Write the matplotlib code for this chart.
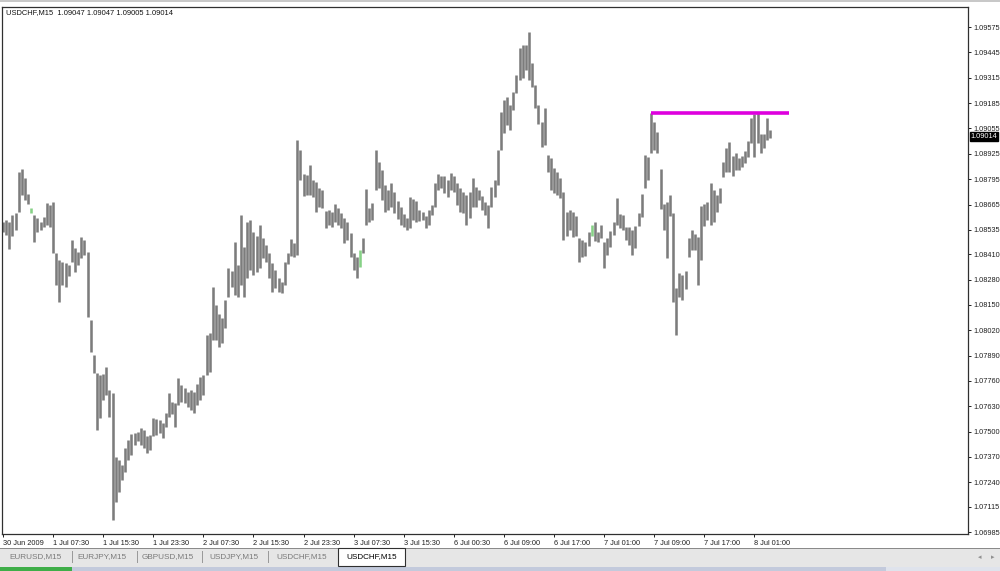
import matplotlib
matplotlib.use("Agg")
import matplotlib.pyplot as plt
import matplotlib.transforms as mtransforms
from matplotlib.patches import Rectangle

# ---------------- data ----------------
symbol = "USDCHF,M15"
last_ohlc = [1.09047, 1.09047, 1.09005, 1.09014]

highs = [
    1.08576, 1.08586, 1.08576, 1.08611, 1.08622, 1.08832, 1.08847, 1.08801, 1.08719, 1.08647,
    1.08611, 1.08596, 1.08576, 1.08601, 1.08673, 1.08662, 1.08678, 1.08417, 1.08381, 1.08371,
    1.08366, 1.08355, 1.08483, 1.08442, 1.08422, 1.08498, 1.08483, 1.08422, 1.08073, 1.07893,
    1.07801, 1.07791, 1.07796, 1.07832, 1.07714, 1.07699, 1.07371, 1.07355, 1.07330, 1.07417,
    1.07458, 1.07488, 1.07494, 1.07499, 1.07519, 1.07509, 1.07478, 1.07483, 1.07571, 1.07565,
    1.07560, 1.07545, 1.07596, 1.07699, 1.07653, 1.07648, 1.07776, 1.07740, 1.07724, 1.07704,
    1.07714, 1.07704, 1.07745, 1.07781, 1.07791, 1.07996, 1.08007, 1.08242, 1.08150, 1.08104,
    1.08083, 1.08176, 1.08340, 1.08325, 1.08473, 1.08355, 1.08611, 1.08447, 1.08576, 1.08586,
    1.08525, 1.08504, 1.08560, 1.08494, 1.08458, 1.08417, 1.08366, 1.08330, 1.08288, 1.08268,
    1.08371, 1.08417, 1.08488, 1.08468, 1.08996, 1.08945, 1.08822, 1.08817, 1.08868, 1.08791,
    1.08781, 1.08750, 1.08740, 1.08632, 1.08637, 1.08627, 1.08668, 1.08647, 1.08622, 1.08596,
    1.08576, 1.08520, 1.08417, 1.08396, 1.08432, 1.08494, 1.08745, 1.08647, 1.08673, 1.08945,
    1.08883, 1.08842, 1.08765, 1.08740, 1.08776, 1.08730, 1.08683, 1.08652, 1.08616, 1.08596,
    1.08704, 1.08694, 1.08683, 1.08637, 1.08627, 1.08606, 1.08637, 1.08662, 1.08776, 1.08822,
    1.08811, 1.08811, 1.08791, 1.08827, 1.08811, 1.08776, 1.08750, 1.08730, 1.08714, 1.08730,
    1.08801, 1.08755, 1.08740, 1.08709, 1.08678, 1.08662, 1.08755, 1.08791, 1.08945, 1.09140,
    1.09201, 1.09216, 1.09175, 1.09242, 1.09329, 1.09468, 1.09483, 1.09483, 1.09550, 1.09391,
    1.09278, 1.09175, 1.09088, 1.09160, 1.08919, 1.08904, 1.08852, 1.08832, 1.08801, 1.08730,
    1.08627, 1.08637, 1.08627, 1.08606, 1.08494, 1.08483, 1.08473, 1.08525, 1.08560, 1.08576,
    1.08525, 1.08560, 1.08473, 1.08494, 1.08530, 1.08576, 1.08698, 1.08616, 1.08611, 1.08550,
    1.08550, 1.08535, 1.08555, 1.08622, 1.08719, 1.08919, 1.08909, 1.09134, 1.09088, 1.09037,
    1.08847, 1.08668, 1.08678, 1.08714, 1.08622, 1.08237, 1.08314, 1.08304, 1.08325, 1.08494,
    1.08535, 1.08514, 1.08499, 1.08657, 1.08668, 1.08678, 1.08776, 1.08740, 1.08714, 1.08750,
    1.08883, 1.08955, 1.08986, 1.08914, 1.08929, 1.08904, 1.08914, 1.08940, 1.08991, 1.09109,
    1.09129, 1.09134, 1.09026, 1.09026, 1.09109, 1.09047,
]

lows = [
    1.08525, 1.08509, 1.08437, 1.08504, 1.08535, 1.08627, 1.08714, 1.08688, 1.08667, 1.08622,
    1.08473, 1.08525, 1.08535, 1.08550, 1.08560, 1.08550, 1.08417, 1.08252, 1.08166, 1.08252,
    1.08242, 1.08299, 1.08371, 1.08320, 1.08355, 1.08391, 1.08406, 1.08088, 1.07909, 1.07801,
    1.07509, 1.07571, 1.07663, 1.07688, 1.07576, 1.07048, 1.07140, 1.07191, 1.07253, 1.07294,
    1.07355, 1.07380, 1.07432, 1.07453, 1.07432, 1.07417, 1.07391, 1.07406, 1.07478, 1.07483,
    1.07494, 1.07468, 1.07524, 1.07576, 1.07591, 1.07524, 1.07637, 1.07653, 1.07648, 1.07627,
    1.07612, 1.07596, 1.07637, 1.07663, 1.07688, 1.07791, 1.07807, 1.07970, 1.07970, 1.07935,
    1.07955, 1.08032, 1.08191, 1.08242, 1.08201, 1.08191, 1.08252, 1.08191, 1.08288, 1.08330,
    1.08304, 1.08320, 1.08340, 1.08391, 1.08371, 1.08288, 1.08217, 1.08237, 1.08217, 1.08212,
    1.08252, 1.08360, 1.08401, 1.08396, 1.08406, 1.08791, 1.08709, 1.08714, 1.08714, 1.08704,
    1.08627, 1.08652, 1.08647, 1.08545, 1.08560, 1.08550, 1.08576, 1.08560, 1.08545, 1.08468,
    1.08483, 1.08396, 1.08330, 1.08288, 1.08345, 1.08417, 1.08560, 1.08576, 1.08586, 1.08740,
    1.08750, 1.08688, 1.08627, 1.08637, 1.08652, 1.08622, 1.08591, 1.08560, 1.08550, 1.08535,
    1.08545, 1.08586, 1.08576, 1.08581, 1.08586, 1.08545, 1.08560, 1.08611, 1.08652, 1.08740,
    1.08750, 1.08724, 1.08704, 1.08740, 1.08730, 1.08662, 1.08627, 1.08622, 1.08560, 1.08596,
    1.08652, 1.08652, 1.08688, 1.08637, 1.08611, 1.08545, 1.08652, 1.08704, 1.08765, 1.08945,
    1.09032, 1.09073, 1.09047, 1.09150, 1.09237, 1.09304, 1.09314, 1.09355, 1.09304, 1.09268,
    1.09160, 1.09078, 1.08960, 1.08971, 1.08832, 1.08740, 1.08724, 1.08714, 1.08699, 1.08483,
    1.08504, 1.08535, 1.08499, 1.08504, 1.08371, 1.08396, 1.08401, 1.08453, 1.08504, 1.08478,
    1.08473, 1.08494, 1.08340, 1.08406, 1.08447, 1.08509, 1.08560, 1.08545, 1.08535, 1.08483,
    1.08458, 1.08406, 1.08442, 1.08555, 1.08601, 1.08750, 1.08791, 1.08929, 1.08945, 1.08929,
    1.08642, 1.08535, 1.08391, 1.08606, 1.08166, 1.07996, 1.08191, 1.08176, 1.08232, 1.08396,
    1.08432, 1.08432, 1.08252, 1.08381, 1.08555, 1.08586, 1.08560, 1.08576, 1.08627, 1.08673,
    1.08806, 1.08832, 1.08832, 1.08811, 1.08842, 1.08842, 1.08858, 1.08878, 1.08909, 1.08981,
    1.08909, 1.08981, 1.08929, 1.08955, 1.08996, 1.09005,
]

green_bars = [9, 114, 188]

xtick_labels = ["30 Jun 2009", "1 Jul 07:30", "1 Jul 15:30", "1 Jul 23:30", "2 Jul 07:30",
                "2 Jul 15:30", "2 Jul 23:30", "3 Jul 07:30", "3 Jul 15:30", "6 Jul 00:30",
                "6 Jul 09:00", "6 Jul 17:00", "7 Jul 01:00", "7 Jul 09:00", "7 Jul 17:00",
                "8 Jul 01:00"]
bars_per_label = 16

ytick_values = [1.09575, 1.09445, 1.09315, 1.09185, 1.09055, 1.08925, 1.08795, 1.08665,
                1.08535, 1.08410, 1.08280, 1.08150, 1.08020, 1.07890, 1.07760, 1.07630,
                1.07500, 1.07370, 1.07240, 1.07115, 1.06985]

res_level = 1.09134
res_from_bar = 207
res_to_bar = 251

tabs = ["EURUSD,M15", "EURJPY,M15", "GBPUSD,M15", "USDJPY,M15", "USDCHF,M15"]
active_tab = "USDCHF,M15"

# ---------------- figure ----------------
W, H = 1000, 571
FONT = "Liberation Sans"
plt.rcParams["font.family"] = [FONT, "DejaVu Sans"]

fig = plt.figure(figsize=(W / 100, H / 100), dpi=100)
fig.patch.set_facecolor("white")


def fx(x):
    return x / W


def fy(y):
    return 1 - y / H


def px_rect(x0, y0, x1, y1, **kw):
    r = Rectangle((fx(x0), fy(y1)), (x1 - x0) / W, (y1 - y0) / H,
                  transform=fig.transFigure, **kw)
    fig.add_artist(r)
    return r


# plot frame: left 2px, right 968px, top 7px, bottom 534px
ax = fig.add_axes([fx(2), fy(534), (968 - 2) / W, (534 - 7) / H])
ax.set_facecolor("white")

n = len(highs)
xs = list(range(n))
colors = ["#86d186" if i in green_bars else "#7c7c7c" for i in xs]
ax.vlines(xs, lows, highs, colors=colors, linewidth=1.85)

# resistance line
ax.plot([res_from_bar, res_to_bar], [res_level, res_level], color="#de00de",
        linewidth=2.6, solid_capstyle="butt", clip_on=False)

ax.set_xlim(-0.32, 308.2)
ax.set_ylim(1.06975, 1.09678)

for sp in ax.spines.values():
    sp.set_color("#303030")
    sp.set_linewidth(0.9)

ax.yaxis.tick_right()
ax.set_yticks(ytick_values)
ax.set_yticklabels([f"{v:.5f}" for v in ytick_values])
ax.tick_params(axis="y", direction="out", length=2.5, width=0.7, pad=1.5,
               labelsize=5.3, colors="#202020")

ax.set_xticks([i * bars_per_label for i in range(len(xtick_labels))])
ax.set_xticklabels(xtick_labels, ha="left")
ax.tick_params(axis="x", direction="out", length=2.5, width=0.7, pad=1.5,
               labelsize=5.3, colors="#202020")

# current price marker
blend = mtransforms.blended_transform_factory(ax.transAxes, ax.transData)
ax.text(1.0025, last_ohlc[3], f"{last_ohlc[3]:.5f}", transform=blend, ha="left",
        va="center", color="white", fontsize=5.3, clip_on=False,
        bbox=dict(boxstyle="square,pad=0.12", fc="black", ec="black"))

# title
fig.text(fx(6), fy(13), f"{symbol}  " + " ".join(f"{v:.5f}" for v in last_ohlc),
         fontsize=5.4, color="#101010", ha="left", va="center")

# top window border
px_rect(0, 0, 1000, 2, facecolor="#c8c8c8", edgecolor="none")

# tab bar
px_rect(0, 548, 1000, 567, facecolor="#e6e6e6", edgecolor="none")
px_rect(0, 547.5, 1000, 548.5, facecolor="#8a8a8a", edgecolor="none")
px_rect(0, 567, 72, 571, facecolor="#3fae49", edgecolor="none")
px_rect(72, 567, 886, 571, facecolor="#c3cadc", edgecolor="none")
px_rect(886, 567, 1000, 571, facecolor="#dfe3ec", edgecolor="none")

tab_centers = [35, 102, 168, 234, 302]
sep_x = [72, 137, 202, 268]
for lbl, cx in zip(tabs, tab_centers):
    fig.text(fx(cx), fy(557), lbl, fontsize=5.9, color="#7a7a7a", ha="center", va="center")
for sx in sep_x:
    px_rect(sx, 551, sx + 0.8, 563, facecolor="#9a9a9a", edgecolor="none")

# active tab
px_rect(338, 548, 405, 566, facecolor="white", edgecolor="#303030", linewidth=0.8)
fig.text(fx(371.5), fy(557), active_tab, fontsize=5.9, color="black", ha="center", va="center")

# scroll arrows
fig.text(fx(980), fy(557), "\u25c2", fontsize=5, color="#909090", ha="center", va="center",
         family=["DejaVu Sans"])
fig.text(fx(993), fy(557), "\u25b8", fontsize=5, color="#909090", ha="center", va="center",
         family=["DejaVu Sans"])

fig.savefig("out.png", dpi=100, facecolor="white")
